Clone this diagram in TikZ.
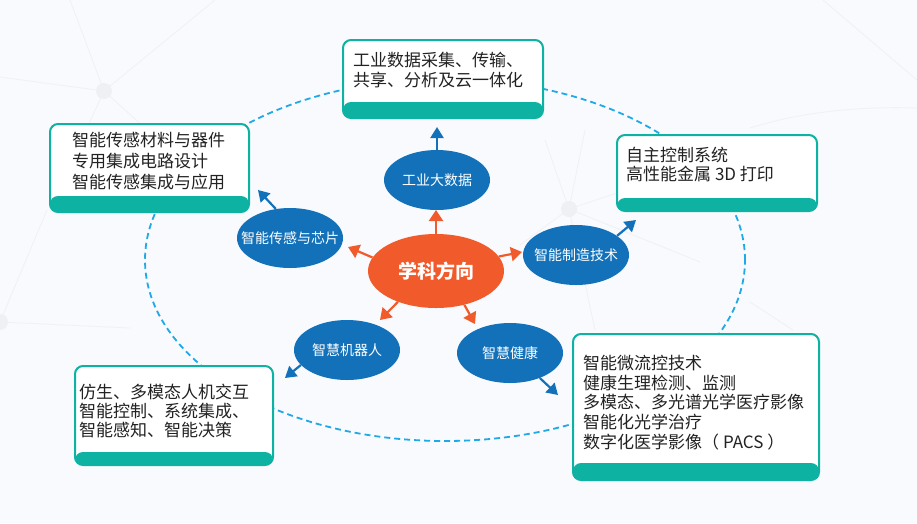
\documentclass[tikz,border=0pt]{standalone}
\usepackage{fontspec}
\newfontfamily\cjk{Noto Sans CJK SC}
\usetikzlibrary{arrows.meta,shapes.geometric}
\definecolor{bgc}{HTML}{F8FAFD}
\definecolor{netc}{HTML}{EFF1F4}
\definecolor{dotc}{HTML}{EEF0F3}
\definecolor{dashc}{HTML}{1FA9E6}
\definecolor{bluec}{HTML}{1271B9}
\definecolor{orangec}{HTML}{F15A2A}
\definecolor{tealc}{HTML}{0DB2A2}
\definecolor{textc}{HTML}{222222}
\begin{document}
\begin{tikzpicture}[x=1pt,y=-1pt,
  net/.style={netc,line width=0.8pt},
  netdot/.style={fill=dotc},
  tbox/.style={draw=tealc,line width=2pt,fill=white,rounded corners=8pt,inner sep=0pt,
    path picture={\fill[tealc] ([yshift=#1]path picture bounding box.south west) rectangle (path picture bounding box.south east);}},
  btext/.style={font=\cjk\fontsize{17}{#1}\selectfont,align=left,inner sep=0pt,text=textc,anchor=west},
  bnode/.style={ellipse,fill=bluec,minimum width=106pt,minimum height=60pt,inner sep=0pt},
  btxt/.style={font=\cjk\fontsize{14}{16}\selectfont,text=white,inner sep=0pt},
  onode/.style={ellipse,fill=orangec,minimum width=136pt,minimum height=74pt,inner sep=0pt,
    font=\cjk\bfseries\fontsize{19}{21}\selectfont,text=white},
  oarrow/.style={draw=orangec,line width=2.2pt,-{Triangle[length=11pt,width=14pt]}},
  barrow/.style={draw=bluec,line width=2.2pt,-{Triangle[length=11pt,width=13pt]}}
]
\useasboundingbox (0,0) rectangle (917,523);
\fill[bgc] (0,0) rectangle (917,523);

% faint background network
\coordinate (na) at (104,91);
\coordinate (nb) at (569,209);
\coordinate (nc) at (0,322);
\draw[net] (na) -- (70,0);
\draw[net] (na) -- (215,0);
\draw[net] (na) -- (0,77);
\draw[net] (na) -- (86,130);
\draw[net] (na) -- (145,128);
\draw[net] (nb) -- (545,140);
\draw[net] (nb) -- (585,130);
\draw[net] (nb) -- (700,165);
\draw[net] (nb) -- (700,262);
\draw[net] (nb) -- (520,245);
\draw[net] (nb) -- (595,330);
\draw[net] (nc) -- (47,210);
\draw[net] (nc) -- (130,328);
\draw[net] (823,0) -- (917,80);
\draw[net] (750,128) .. controls (800,112) and (860,106) .. (917,108);
\draw[net] (750,302) -- (793,330);
\fill[netdot] (na) circle[radius=8pt];
\fill[netdot] (nb) circle[radius=8pt];
\fill[netdot] (nc) circle[radius=8pt];

% dashed orbit
\draw[dashc,line width=1.8pt,dash pattern=on 6pt off 4pt] (445,260) ellipse[x radius=300pt,y radius=181pt];

% boxes
\node[tbox=16pt,minimum width=200pt,minimum height=78pt] (b1) at (443,79) {};
\node[tbox=16pt,minimum width=199pt,minimum height=88pt] (b2) at (149.5,168) {};
\node[tbox=13pt,minimum width=200pt,minimum height=76pt] (b3) at (717,173) {};
\node[tbox=13pt,minimum width=198pt,minimum height=99pt] (b4) at (174,415.5) {};
\node[tbox=17pt,minimum width=246pt,minimum height=146pt] (b5) at (696,407) {};

\node[btext=20] (t1) at (353,70) {工业数据采集、传输、\\共享、分析及云一体化};
\node[btext=21] (t2) at (72,161) {智能传感材料与器件\\专用集成电路设计\\智能传感集成与应用};
\node[btext=19] (t3) at (626,164.5) {自主控制系统\\高性能金属 3D 打印};
\node[btext=19] (t4) at (79,411) {仿生、多模态人机交互\\智能控制、系统集成、\\智能感知、智能决策};
\node[btext=19.7] (t5) at (583,402.5) {智能微流控技术\\健康生理检测、监测\\多模态、多光谱光学医疗影像\\智能化光学治疗\\数字化医学影像（ PACS ）};

% central and satellite ellipses
\node[onode] (c) at (436,271) {学科方向};
\node[bnode,label={[btxt]center:工业大数据}] (e1) at (437,180) {};
\node[bnode,label={[btxt]center:智能传感与芯片}] (e2) at (290,238) {};
\node[bnode,label={[btxt]center:智能制造技术}] (e3) at (576,255) {};
\node[bnode,label={[btxt]center:智慧机器人}] (e4) at (347,350) {};
\node[bnode,label={[btxt]center:智慧健康}] (e5) at (510,353) {};

% arrow tips
\coordinate (o1) at (436,210);
\coordinate (o2) at (348,247);
\coordinate (o3) at (522,252);
\coordinate (o4) at (380,320);
\coordinate (o5) at (475,324);
\coordinate (p1) at (437,127);
\coordinate (p2) at (258,190);
\coordinate (p3) at (636,220);
\coordinate (p4) at (285,378);
\coordinate (p5) at (558,395);

\draw[oarrow] (c.north) -- (o1);
\draw[oarrow] (c.168) -- (o2);
\draw[oarrow] (c.13) -- (o3);
\draw[oarrow] (c.219) -- (o4);
\draw[oarrow] (c.-50) -- (o5);

\draw[barrow] (e1.north) -- (p1);
\draw[barrow] (e2.116) -- (p2);
\draw[barrow] (e3.25) -- (p3);
\draw[barrow] (e4.198) -- (p4);
\draw[barrow] (e5.-40) -- (p5);
\end{tikzpicture}
\end{document}
